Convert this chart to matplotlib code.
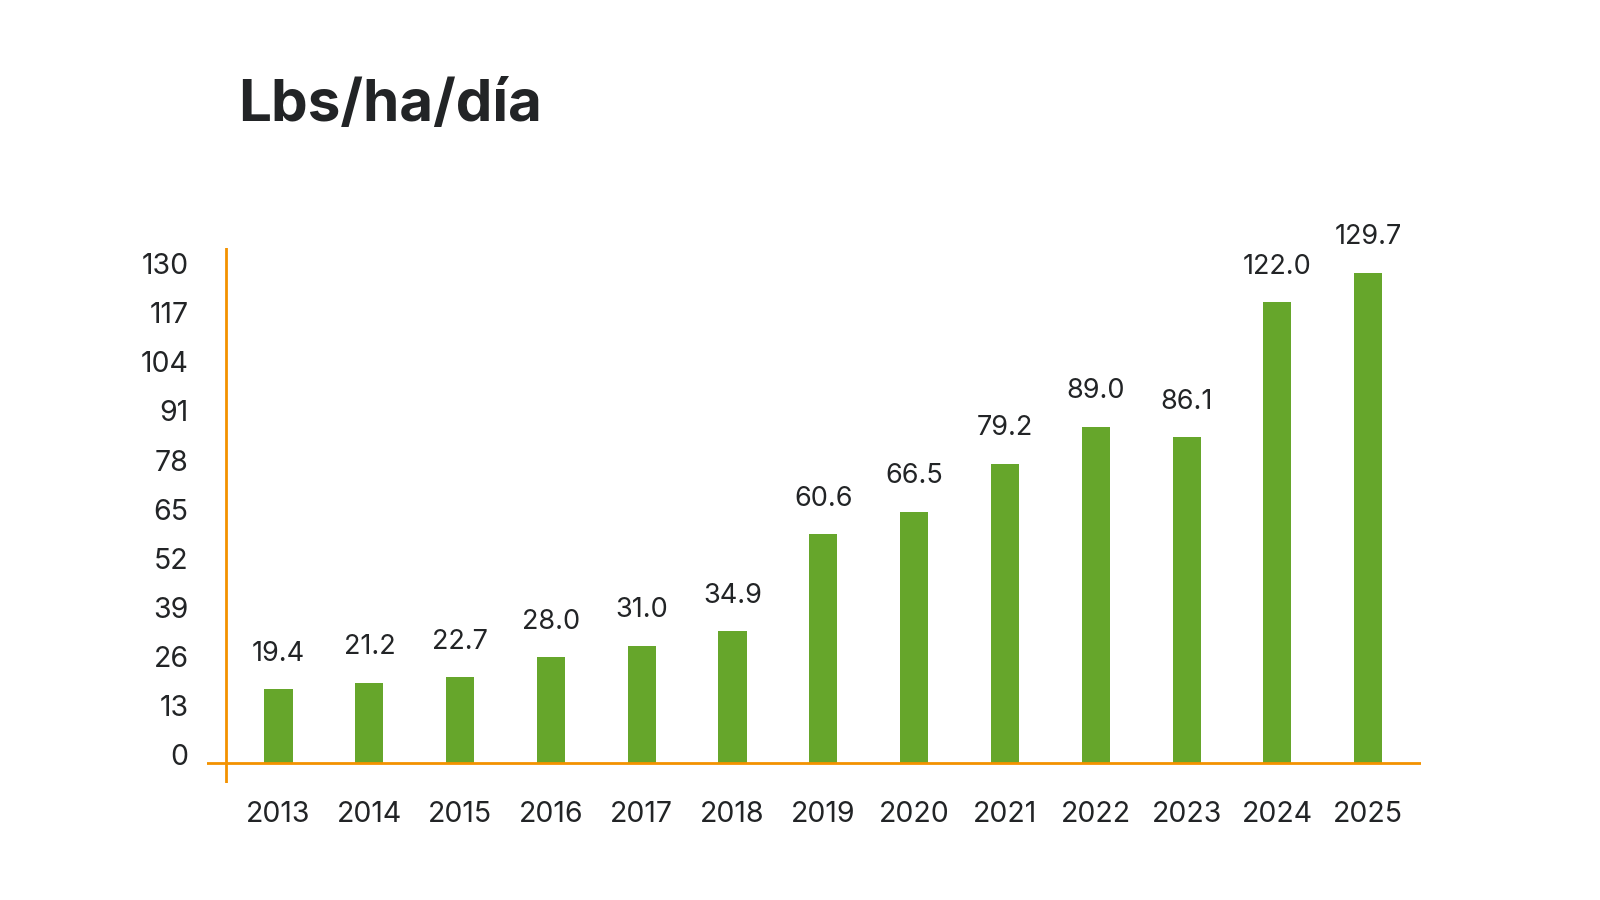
import matplotlib.pyplot as plt
import matplotlib.transforms as mtrans

years = ['2013', '2014', '2015', '2016', '2017', '2018', '2019',
         '2020', '2021', '2022', '2023', '2024', '2025']
values = [19.4, 21.2, 22.7, 28.0, 31.0, 34.9, 60.6,
          66.5, 79.2, 89.0, 86.1, 122.0, 129.7]
yticks = list(range(0, 131, 13))

green = '#66a62b'
orange = '#f39200'
dark = '#222426'

plt.rcParams['font.family'] = ['Inter', 'DejaVu Sans']

# layout measured on a 1563x879 view of the reference
W, H = 1563, 879

fig = plt.figure(figsize=(16, 9), dpi=100)
# axes box: x 202..1388, y 242..765 (from top)
ax = fig.add_axes([202 / W, 1 - 765 / H, (1388 - 202) / W, (765 - 242) / H])

x = list(range(len(years)))
ax.bar(x, values, width=0.31, color=green, zorder=2)

for xi, v in zip(x, values):
    ax.annotate(f'{v:.1f}', (xi, v), xytext=(0, 16), textcoords='offset points',
                ha='center', va='bottom', fontsize=19.5, color=dark)

ax.set_xlim(-0.79, 12.58)
ax.set_ylim(-5.42, 136.3)

for s in ax.spines.values():
    s.set_visible(False)

# orange axis lines
ax.axhline(0, color=orange, lw=2, zorder=3)
ax.axvline(-0.575, color=orange, lw=2, zorder=3)

ax.set_xticks(x)
ax.set_xticklabels(years)
ax.set_yticks(yticks)
ax.tick_params(axis='both', length=0, labelsize=20.5, labelcolor=dark)
ax.tick_params(axis='x', pad=13)
ax.tick_params(axis='y', pad=13)

shift = mtrans.ScaledTranslation(0, 8 / 100, fig.dpi_scale_trans)
for lab in ax.get_yticklabels():
    lab.set_transform(lab.get_transform() + shift)

fig.text(233 / W, 1 - 104 / H, 'Lbs/ha/día', fontsize=42,
         fontweight='bold', color=dark, ha='left', va='center')

fig.savefig('out.png', dpi=100, facecolor='white')
